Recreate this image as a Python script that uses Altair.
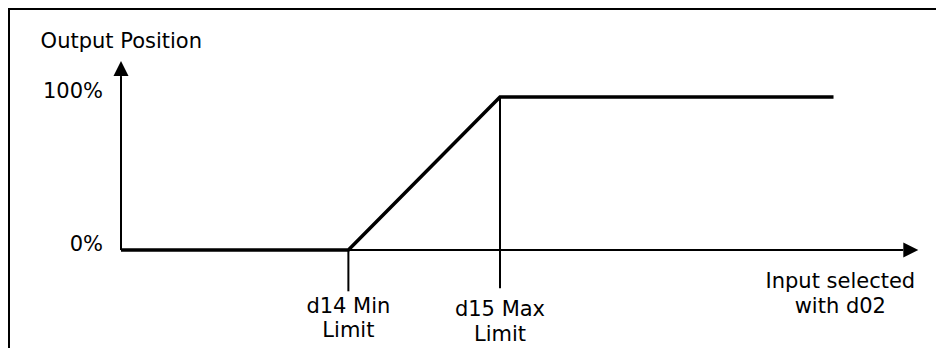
import altair as alt
import pandas as pd

# ---- data (input units on x, output % on y) ----
min_limit = 30          # d14 Min Limit
max_limit = 50          # d15 Max Limit
input_end = 94          # end of drawn characteristic
out_low = 0
out_high = 100

profile_x = [0, min_limit, max_limit, input_end]
profile_y = [out_low, out_low, out_high, out_high]

x_axis_end = 103.2      # shaft end of input axis arrow
x_arrow_at = 104.2
y_axis_end = 113.7      # shaft end of output axis arrow
y_arrow_at = 118.6

min_drop = -27
max_drop = -25

pct_labels = ["100%", "0%"]
pct_values = [out_high, out_low]

X_DOM = [-14.64, 107.52]
Y_DOM = [-64.06, 156.86]
FONT = "DejaVu Sans"
FS = 21

xs = alt.Scale(domain=X_DOM, nice=False, zero=False)
ys = alt.Scale(domain=Y_DOM, nice=False, zero=False)

def X(f="x"):
    return alt.X(f"{f}:Q", scale=xs, axis=None)

def Y(f="y"):
    return alt.Y(f"{f}:Q", scale=ys, axis=None)

one = pd.DataFrame({"k": [0]})

# frame (top and left edges)
frame_top = alt.Chart(one).mark_rule(color="black", strokeWidth=2).encode(
    x=alt.value(-2), x2=alt.value(934), y=alt.value(-1))
frame_left = alt.Chart(one).mark_rule(color="black", strokeWidth=2).encode(
    x=alt.value(-1), y=alt.value(-2), y2=alt.value(346))

# axes shafts
axes_df = pd.DataFrame({
    "x": [0, 0], "y": [out_low, out_low],
    "x2": [x_axis_end, 0], "y2": [out_low, y_axis_end],
})
axes = alt.Chart(axes_df).mark_rule(color="black", strokeWidth=2).encode(
    x=X(), y=Y(), x2="x2:Q", y2="y2:Q")

# arrow heads
arr_r = alt.Chart(pd.DataFrame({"x": [x_arrow_at], "y": [out_low]})).mark_point(
    shape="M1,0L-1,-1L-1,1Z", size=225, filled=True, color="black", opacity=1
).encode(x=X(), y=Y())
arr_u = alt.Chart(pd.DataFrame({"x": [0], "y": [y_arrow_at]})).mark_point(
    shape="M0,-1L1,1L-1,1Z", size=225, filled=True, color="black", opacity=1
).encode(x=X(), y=Y())

# drop lines at limits
drops_df = pd.DataFrame({
    "x": [min_limit, max_limit],
    "y": [out_low, out_high],
    "y2": [min_drop, max_drop],
})
drops = alt.Chart(drops_df).mark_rule(color="black", strokeWidth=2).encode(
    x=X(), y=Y(), y2="y2:Q")

# characteristic line
prof_df = pd.DataFrame({"x": profile_x, "y": profile_y, "o": list(range(len(profile_x)))})
prof = alt.Chart(prof_df).mark_line(color="black", strokeWidth=3.5, strokeJoin="miter").encode(
    x=X(), y=Y(), order="o:Q")

# texts
title_t = alt.Chart(pd.DataFrame({"x": [-10.6], "y": [132.0], "t": ["Output Position"]})).mark_text(
    font=FONT, fontSize=FS, align="left", baseline="alphabetic", color="black"
).encode(x=X(), y=Y(), text="t:N")

pct_t = alt.Chart(pd.DataFrame({"x": [0, 0], "y": pct_values, "t": pct_labels})).mark_text(
    font=FONT, fontSize=FS, align="right", baseline="alphabetic", color="black", dx=-18, dy=1
).encode(x=X(), y=Y(), text="t:N")

def lbl(xv, lines, dy):
    return alt.Chart(pd.DataFrame({"x": [xv], "y": [out_low], "t": [lines]})).mark_text(
        font=FONT, fontSize=FS, align="center", baseline="alphabetic", color="black",
        lineHeight=24.6, dy=dy
    ).encode(x=X(), y=Y(), text="t")

t_min = lbl(min_limit, ["d14 Min", "Limit"], 62.7)
t_max = lbl(max_limit, ["d15 Max", "Limit"], 66)
t_in = lbl(94.9, ["Input selected", "with d02"], 38.3)

chart = alt.layer(
    frame_top, frame_left, axes, drops, prof, arr_r, arr_u, title_t, pct_t, t_min, t_max, t_in
).properties(
    width=926, height=338,
    padding={"left": 2, "top": 2, "right": 0, "bottom": 0},
    autosize=alt.AutoSizeParams(type="none"),
    background="white"
).configure_view(strokeWidth=0)

chart.save("out.html", embed_options={"renderer": "svg", "actions": False})
